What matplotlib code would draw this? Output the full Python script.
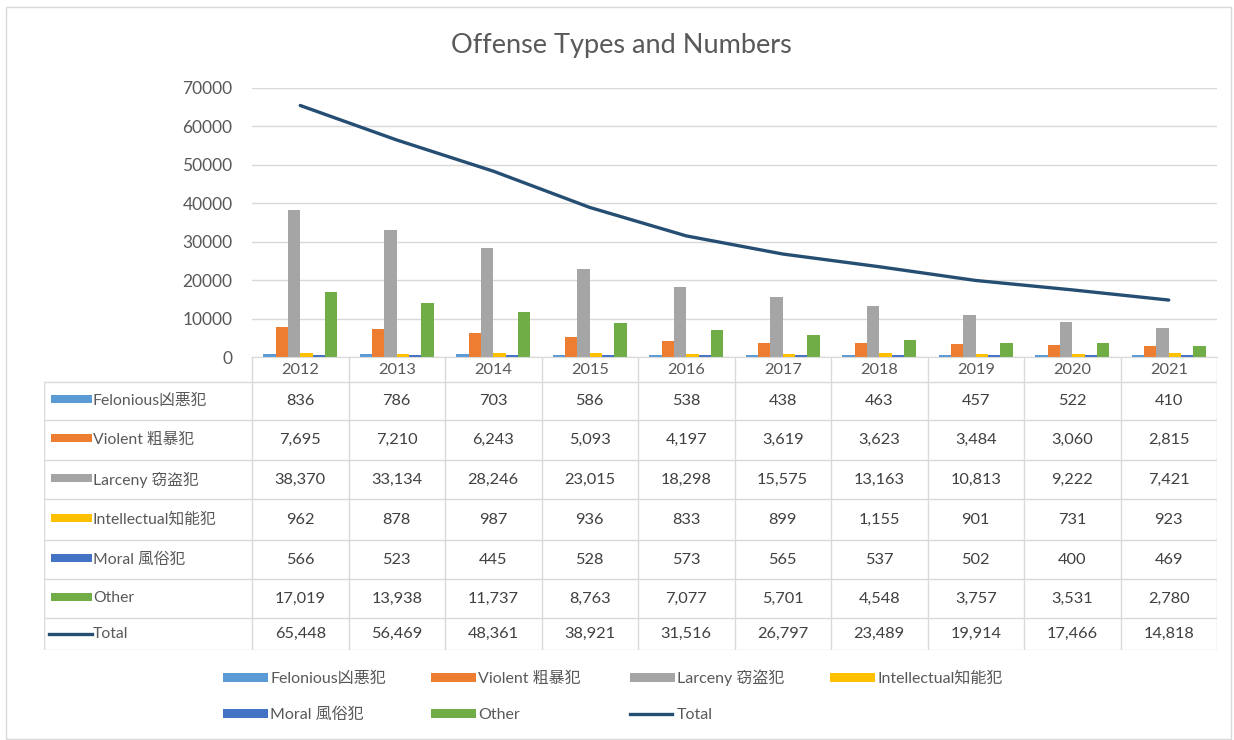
import numpy as np
import matplotlib
matplotlib.use("Agg")
import matplotlib.pyplot as plt
from matplotlib.patches import Rectangle
from matplotlib.lines import Line2D

plt.rcParams['font.family'] = ['Lato', 'Noto Sans CJK JP', 'DejaVu Sans']

#--- data
years = ["2012", "2013", "2014", "2015", "2016", "2017", "2018", "2019", "2020", "2021"]
felonious = [836, 786, 703, 586, 538, 438, 463, 457, 522, 410]
violent = [7695, 7210, 6243, 5093, 4197, 3619, 3623, 3484, 3060, 2815]
larceny = [38370, 33134, 28246, 23015, 18298, 15575, 13163, 10813, 9222, 7421]
intellectual = [962, 878, 987, 936, 833, 899, 1155, 901, 731, 923]
moral = [566, 523, 445, 528, 573, 565, 537, 502, 400, 469]
other = [17019, 13938, 11737, 8763, 7077, 5701, 4548, 3757, 3531, 2780]
total = [65448, 56469, 48361, 38921, 31516, 26797, 23489, 19914, 17466, 14818]

names = ["Felonious凶悪犯", "Violent 粗暴犯", "Larceny 窃盗犯", "Intellectual知能犯",
         "Moral 風俗犯", "Other"]
series = [felonious, violent, larceny, intellectual, moral, other]
colors = ["#5B9BD5", "#ED7D31", "#A5A5A5", "#FFC000", "#4472C4", "#70AD47"]
total_color = "#264E73"
grid_c = "#D9D9D9"
txt_c = "#595959"

W, H = 1234, 740
fig = plt.figure(figsize=(W / 100, H / 100), dpi=100)

def fx(px):
    return px / W

def fy(py):
    return 1 - py / H

# outer border
fig.patches.append(Rectangle((fx(6), fy(739)), fx(1231) - fx(6), fy(7) - fy(739),
                             transform=fig.transFigure, fill=False, ec="#D9D9D9", lw=1))

fig.text(fx(621), fy(45), "Offense Types and Numbers", ha="center", va="center",
         fontsize=19.5, color=txt_c)

#--- main chart
x0, x1, ytop, ybot = 252, 1217, 88, 357
ax = fig.add_axes([fx(x0), fy(ybot), fx(x1) - fx(x0), fy(ytop) - fy(ybot)])
x = np.arange(len(years))
w = 0.128
for k, (vals, c) in enumerate(zip(series, colors)):
    ax.bar(x + (k - 2.5) * w, vals, w, color=c, zorder=2)
ax.plot(x, total, color=total_color, lw=2.4, zorder=3, solid_capstyle="round")
ax.set_xlim(-0.5, len(years) - 0.5)
ax.set_ylim(0, 70000)
ax.set_yticks(np.arange(0, 70001, 10000))
ax.set_yticklabels([str(v) for v in range(0, 70001, 10000)])
ax.set_xticks([])
ax.tick_params(axis="y", length=0, pad=14, labelsize=12.5, labelcolor=txt_c)
ax.grid(axis="y", color=grid_c, lw=1, zorder=0)
for s in ["left", "right", "top"]:
    ax.spines[s].set_visible(False)
ax.spines["bottom"].set_color(grid_c)

#--- data table
cw = (x1 - x0) / len(years)
tx0 = 44
lab_w = (x0 - tx0) / cw
tax = fig.add_axes([fx(tx0), fy(650), fx(x1) - fx(tx0), fy(ybot) - fy(650)])
tax.set_xlim(-0.5 - lab_w, len(years) - 0.5)
tax.set_ylim(650, ybot)
tax.axis("off")

def px2x(px):
    return -0.5 + (px - x0) / cw

row_edges = [382, 420, 460, 499, 540, 579, 618, 650]
for i in range(len(years) + 1):
    tax.plot([i - 0.5, i - 0.5], [ybot, 650], color=grid_c, lw=1)
tax.plot([-0.5 - lab_w, -0.5 - lab_w], [382, 650], color=grid_c, lw=1)
for e in row_edges:
    tax.plot([-0.5 - lab_w, len(years) - 0.5], [e, e], color=grid_c, lw=1)

for i, yr in enumerate(years):
    tax.text(i, (ybot + 382) / 2, yr, ha="center", va="center", fontsize=11.8, color=txt_c)

rows = series + [total]
row_names = names + ["Total"]
for r, (vals, nm) in enumerate(zip(rows, row_names)):
    yc = (row_edges[r] + row_edges[r + 1]) / 2
    if nm == "Total":
        tax.plot([px2x(49), px2x(92)], [yc, yc], color=total_color, lw=2.4)
    else:
        tax.add_patch(Rectangle((px2x(51), yc - 6), px2x(92) - px2x(51), 8,
                                color=colors[r], lw=0))
    tax.text(px2x(93), yc, nm, ha="left", va="center", fontsize=11.3, color=txt_c)
    for i, v in enumerate(vals):
        tax.text(i, yc, f"{v:,}", ha="center", va="center", fontsize=11.8, color="#404040")

#--- legend, drawn slot by slot so the rows line up
labels = names + ["Total"]
slots = [(223, 678), (431, 678), (630, 678), (830, 678),
         (223, 714), (431, 714), (630, 714)]
for k, (lab, (lx, ly)) in enumerate(zip(labels, slots)):
    if lab == "Total":
        fig.lines.append(Line2D([fx(lx), fx(lx + 42)], [fy(ly), fy(ly)], color=total_color,
                                lw=2.4, transform=fig.transFigure))
    else:
        fig.patches.append(Rectangle((fx(lx), fy(ly + 4)), fx(45), fy(0) - fy(9),
                                     color=colors[k], lw=0, transform=fig.transFigure))
    fig.text(fx(lx + 47), fy(ly + 5), lab, ha="left", va="baseline",
             fontsize=11.5, color=txt_c)

fig.savefig("out.png", dpi=100)
